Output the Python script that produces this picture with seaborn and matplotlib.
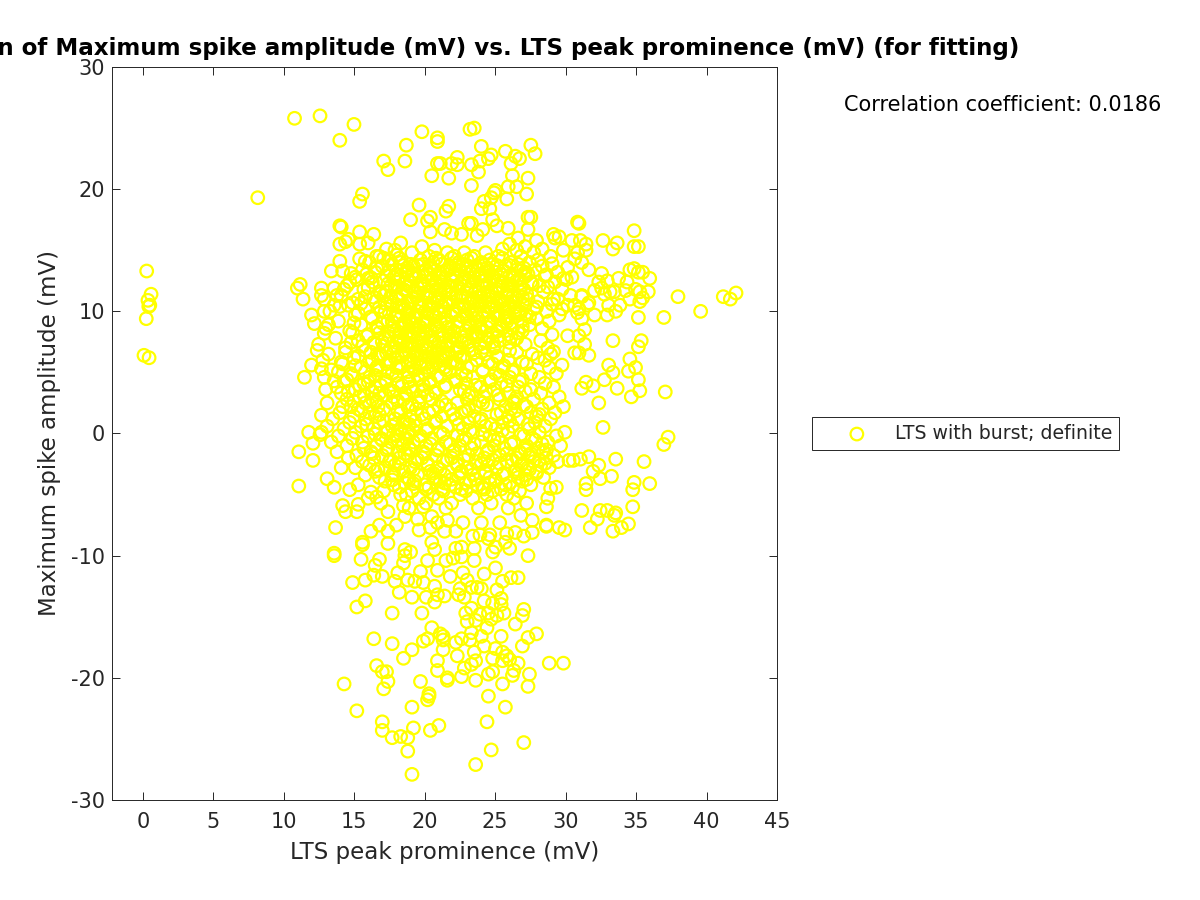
import matplotlib
matplotlib.use("Agg")
import matplotlib.pyplot as plt
import seaborn as sns
import pandas as pd

TITLE = "Correlation of Maximum spike amplitude (mV) vs. LTS peak prominence (mV) (for fitting)"
XLABEL = "LTS peak prominence (mV)"
YLABEL = "Maximum spike amplitude (mV)"
LEGEND = "LTS with burst; definite"
CORR = "Correlation coefficient: 0.0186"

left_points = [(0.45,13.3),(0.76,11.4),(0.54,10.9),(0.6,10.4),(0.67,10.5),(0.42,9.4),(0.26,6.4),(0.62,6.2),(8.3,19.3)]
top_points = [(10.9,25.8),(12.7,26),(15.1,25.3),(14.1,24),(17.2,22.3),(17.5,21.6),(18.8,23.6),(18.7,22.3),(19.9,24.7),(20.6,21.1),(21,22.1),
 (21,24.2),(21,23.9),(23.3,24.9),(23.6,25),(24.1,23.5),(25.8,23.1),(24.8,22.8),(24.6,22.5),(24,22.3),(26.5,22.7),(26.8,22.5),(26.2,22.1),
 (27.6,23.6),(27.9,22.9),(22.4,22.6),(22.4,22),(22,22.1),(21.2,22.1),(23.4,22),(23.9,21.4),(21.8,20.9),(23.4,20.3),(26.3,21.1),(27.4,20.9),
 (26.6,20.2),(26,20.2),(25.1,19.9),(25,19.7),(24.8,19.3),(27.3,19.6),(25.9,19.2),(24.3,19),(24.7,18.4),(24.1,18.4),(21.8,18.6),(21.6,18.2),
 (15.7,19.6),(15.5,19),(19.7,18.7),(19.1,17.5),(20.5,17.7),(20.3,17.4),(20.5,16.5),(14.1,17),(14.2,16.9),(15.5,16.5),(16.5,16.3),(14.7,15.9),
 (14.5,15.7),(14.1,15.5),(15.5,15.5),(16.1,15.6),(18.4,15.6),(17.4,15.1),(18,15),(18.1,14.6),(19.9,15.3),(20.8,15),(24.9,17.5),(25.2,17),
 (23.4,17.2),(23.2,17.2),(26,16.8),(27.4,17.7),(27.6,17.7),(27.4,16.7),(30.9,17.3),(31,17.2),(34.9,16.6),(34.9,15.3),(35.2,15.3),(32.7,15.8),
 (33.7,15.6),(33.4,15.1),(31.5,15.5),(31.1,15.8),(30.5,15.8),(31.5,15),(29.2,16.3),(29.6,16.1),(29.3,16),(28,15.8),(28.4,15.1),(29.9,15),
 (26.7,16),(25.6,15.1),(26.1,15.5),(26.6,15),(27.2,15.3),(24.2,16.7),(23.8,16.2),(22.7,16.3),(22,16.4),(21.5,16.7)]
left_edge_points = [(14.1,14.1),(13.5,13.3),(14.3,13.3),(15.5,14.3),(15.9,14.1),(16.7,14.5),(14.9,13.1),(15.2,12.8),(14.8,12.4),(16.1,12.7),
 (11.3,12.2),(11.1,11.9),(11.5,11),(12.8,11.9),(12.8,11.3),(13,11),(13.7,11.9),(13.9,11.3),(14.4,11.8),(15.9,11.2),(15,10.7),(13.7,10.5),
 (14.1,10.4),(12.1,9.7),(13,10),(12.3,9),(13,8.2),(13.3,8.9),(12.5,6.8),(12.1,5.6),(11.6,4.6),(12.8,5.3),(13.1,3.6),(13.7,4.3),(13.2,2.5),
 (14.3,2.2),(12.8,1.5),(11.9,0.1),(12.7,-0.1),(12.2,-0.8),(11.2,-1.5),(12.2,-2.2),(11.2,-4.3),(13.2,-3.7),(13.7,-4.4),(14.2,-2.8),(14.8,-4.6),
 (15.4,-4.2),(16.3,-4.8),(16.7,-5.2),(17.8,-3.8),(18.4,-5),(19.3,-4.1)]
right_points = [(38,11.2),(39.6,10),(41.2,11.2),(41.7,11),(42.1,11.5),(37,9.5),(35.2,9.5),(33.4,7.6),(35.4,7.6),(35.2,7.1),(34.6,6.1),(35,5.4),
 (34.5,5.1),(33.1,5.6),(33.4,5),(32.8,4.4),(35.2,4.4),(33.7,3.7),(35.3,3.5),(34.7,3),(37.1,3.4),(32.4,2.5),(31.5,4.2),(32,3.9),(31.2,3.7),
 (32.7,0.5),(37.3,-0.3),(37,-0.9),(35.6,-2.3),(33.6,-2.1),(31.7,-1.9),(31.1,-2.1),(30.6,-2.2),(30.3,-2.2),(32.4,-2.6),(32,-3.1),(33.3,-3.5),
 (32.5,-3.7),(34.9,-4),(36,-4.1),(34.8,-4.6),(31.5,-4.6),(31.5,-4.1),(29.4,-4.4),(29,-4.5),(28.8,-5.3),(28.7,-6),(34.8,-6),(31.2,-6.3),
 (32.5,-6.3),(33,-6.3),(33.6,-6.5),(33.5,-6.7),(32.3,-7),(34.5,-7.4),(34,-7.7),(31.8,-7.7),(33.4,-8),(28.7,-7.6),(29.6,-7.7),(30,-7.9),
 (31.7,13.4),(32.6,13.1),(34.6,13.4),(34.9,13.5),(35.5,13.2),(35.2,13.2),(36,12.7),(33.8,12.7),(33,12.5),(32.4,12.4),(34.4,12.4),(32.1,11.7),
 (32.6,11.9),(33.2,11.6),(32.8,11.4),(33.5,11.6),(34.3,11.7),(35,11.8),(35.3,11.6),(35.9,11.6),(35.5,11.1),(35.3,10.8),(34.6,11),(33.9,10.5),
 (33.6,10),(33.1,10.5),(33,9.7),(32.1,9.7),(31.7,10.7),(31.2,11.2),(30.7,10.5),(31,10.2),(30.9,9.9),(31.2,9.4),(31.4,8.5),(31,8),(30.2,8),
 (31.4,7.3),(30.7,6.6),(31,6.6),(31.7,6.4),(29.8,5.6),(29.2,6.7),(30.5,12.8),(29.9,12.7),(29,14.5),(29.1,13.9),(28.7,13),(28.8,12),(29.5,11),
 (29.1,10.6),(29.8,10.2),(31.6,10.5),(31.2,11.3),(30.2,13.6),(30.7,14.3),(31.2,14),(30.9,14.8)]
lower_points = [(13.8,-7.7),(14.5,-6.4),(14.3,-5.9),(15.3,-6.4),(15.4,-5.8),(16.3,-8),(16.9,-7.5),(17.5,-8),(18.1,-7.5),(18.7,-6.8),(17.5,-6.4),
 (18.6,-5.9),(19.7,-7.9),(19.6,-7),(20,-6),(20.6,-6.8),(20.5,-7.7),(21,-7.3),(21.5,-8),(21.7,-7.1),(22.3,-8),(22.8,-7.3),(24.1,-7.3),(25.4,-7.3),
 (23.5,-8.4),(24,-8.3),(24.7,-8.3),(25.9,-8.2),(26.5,-8.1),(27.1,-8.4),(27.7,-8.1),(28.7,-7.5),(27.7,-7.1),(26.9,-6.7),
 (15.7,-8.9),(15.7,-9.1),(13.7,-9.8),(13.7,-10),(17.5,-9),(15.6,-10.3),(16.9,-10.3),(16.6,-10.8),(16.5,-11.6),(15,-12.2),(15.9,-12),(17.1,-11.7),
 (18,-12.1),(18.3,-13),(18.7,-9.5),(19.1,-9.7),(18.7,-10),(18.6,-10.6),(18.2,-11.4),(18.9,-12),(19.4,-12.1),(19.8,-11.3),(20,-12.2),(19.2,-13.4),
 (20.2,-13.4),(20.8,-12.5),(21,-13.2),(20.8,-13.8),(21.5,-13.3),(20.3,-10.4),(20.8,-9.5),(20.6,-8.9),(21,-11.2),(21.9,-11.7),(22.3,-9.4),(22.7,-9.3),
 (22.1,-10.2),(22.7,-10.1),(21.6,-10.4),(23.6,-10.4),(23.6,-9.4),(24.9,-9.7),(25.1,-9.3),(24.6,-8.6),(25.8,-8.9),(26.1,-9.4),(27.4,-10),(25.1,-11),
 (24.3,-11.5),(22.8,-11.4),(23.1,-12),(22.6,-12.7),(22.5,-13.2),(22.9,-13.4),(23.4,-12.6),(24.1,-12.7),(23.8,-12.6),(25.6,-12.1),(26.2,-11.8),
 (26.7,-11.8),(25.2,-12.8),(25.5,-13.5),(24.3,-13.7),(24.9,-13.9),(25.5,-14),(27.1,-14.4),(27,-14.9),(26.5,-15.6),(23.4,-14.3),(23,-14.7),(24,-14.8),
 (24.6,-14.7),(25.2,-14.9),(25.7,-14.7),(23.1,-15.4),(23.7,-15.3),(24.8,-15.2),(24.5,-15.9),(15.3,-14.2),(15.9,-13.7),(17.8,-14.7),(19.9,-14.7),
 (20.6,-15.9),(16.5,-16.8),(17.8,-17.2),(20,-17),(20.3,-16.8),(21.2,-16.4),(21.4,-16.6),(21.4,-16.9),(22.3,-17.1),(22.7,-16.8),(23.3,-16.9),(23.4,-16.3),
 (24.1,-16.6),(25.5,-16.6),(24.3,-17.4),(25.1,-17.6),(27,-17.4),(27.4,-16.7),(28,-16.4),(19.2,-17.7),(18.6,-18.4),(21.4,-17.7),(21,-18.6),(21,-19.4),
 (22.4,-18.2),(23.6,-17.9),(23.7,-18.6),(23.4,-18.9),(22.9,-19.2),(22.7,-19.9),(21.7,-20),(21.7,-20.2),(23.7,-20.2),(24.6,-19.7),(24.9,-19.5),(24.9,-18.4),
 (25.6,-17.9),(25.9,-18.2),(25.6,-18.6),(26.1,-18.5),(26.7,-18.8),(26.3,-19.8),(26.4,-19.4),(25.6,-20.5),(27.5,-19.7),(27.4,-20.7),(28.9,-18.8),(29.9,-18.8),
 (24.6,-21.5),(25.8,-22.4),(16.7,-19),(17.1,-19.5),(17.4,-19.5),(17.5,-20.3),(17.2,-20.9),(14.4,-20.5),(19.8,-20.3),(20.4,-21.3),(20.4,-21.5),(20.3,-21.8),
 (19.2,-22.4),(15.3,-22.7),(17.1,-23.6),(17.1,-24.3),(17.8,-24.9),(18.4,-24.8),(18.9,-24.9),(19.3,-24.1),(20.5,-24.3),(21.1,-23.9),(24.5,-23.6),(27.1,-25.3),
 (24.8,-25.9),(18.9,-26),(23.7,-27.1),(19.2,-27.9)]

# core of the cloud: amplitude level, then the prominences read along it
core_amplitude = [14.8,14.5,14.2,14.0,13.7,13.4,13.2,12.9,12.6,12.4,12.1,11.8,11.6,11.3,11.0,10.8,10.5,10.2,10.0,9.7,9.4,9.2,8.9,8.6,8.4,8.1,7.8,7.6,7.3,7.0,
 6.8,6.5,6.2,6.0,5.7,5.4,5.2,4.9,4.6,4.4,4.1,3.8,3.6,3.3,3.0,2.8,2.5,2.2,2.0,1.7,1.4,1.2,0.9,0.6,0.4,0.1,-0.2,-0.4,-0.7,-1.0,-1.2,-1.5,-1.8,-2.0,-2.3,-2.6,-2.8,-3.1,-3.4,-3.6,-3.9,-4.2,-4.4,-4.7,-5.0,-5.3,-5.7,-6.1]
core_prominence = [
 [19.2,21.7,22.9,24.4,27.8],[16.9,20.4,22.2,23.6,25.3,26.9],[17.6,19.8,21.1,23.1,24.7,28.1],[16.2,18.4,20.7,22.5,24.1,26.2,27.5],[17.1,19.3,21.9,23.7,25.8,28.4],
 [15.7,18.1,20.2,22.6,23.9,26.6,27.9],[16.6,18.8,21.4,23.3,25.1,27.2,29.5],[17.4,19.7,22.1,24.4,26.1,28.6],[15.3,18.2,20.6,22.8,24.9,26.8,30.1],[16.4,19.1,21.3,23.5,25.6,27.6,29.3],
 [14.6,17.7,20.1,22.4,24.2,26.3,28.2],[15.8,18.6,20.9,23.1,25.2,27.1,29.8],[16.9,19.4,21.8,23.9,26.0,28.5],[14.2,17.2,20.3,22.7,24.6,26.7,30.4],[15.4,18.3,21.1,23.4,25.4,27.4,29.2],
 [16.6,19.2,21.6,24.0,26.2,28.1],[14.7,17.8,20.4,22.9,25.0,27.2,30.2],[15.9,18.7,21.0,23.2,25.7,27.8],[13.4,17.0,19.6,22.3,24.3,26.5,28.7],[15.2,18.1,20.7,23.0,25.3,27.3,29.6],
 [16.4,19.0,21.5,23.6,25.9,28.0],[14.0,17.5,20.2,22.5,24.8,26.9,28.9],[15.6,18.5,20.8,23.3,25.5,27.5],[13.1,16.8,19.4,21.9,24.1,26.3,28.4],[14.8,17.9,20.5,23.0,25.2,27.0],
 [16.1,18.8,21.3,23.7,26.0,29.1],[13.8,17.3,19.9,22.2,24.6,26.6],[15.4,18.3,20.6,22.9,25.4,28.3],[12.6,16.6,19.2,21.7,24.0,27.2],[14.5,17.7,20.3,22.6,25.0,28.8],
 [15.9,18.6,21.0,23.4,26.1],[13.3,16.9,19.6,21.8,24.4,27.7,29.0],[15.1,18.0,20.7,22.8,25.3,28.1],[12.9,16.4,19.1,21.4,23.8,26.0,28.6],[14.3,17.4,20.2,22.4,24.9,27.3],
 [15.6,18.4,20.6,23.1,25.6,28.9],[13.5,16.7,19.4,21.6,24.2,26.4],[14.9,17.8,20.1,22.7,25.1,27.6,29.4],[13.0,16.2,18.9,21.2,23.5,26.1,28.2],[14.6,17.3,19.7,22.3,24.8,27.0],
 [15.8,18.2,20.4,23.0,25.5,28.6],[13.9,16.6,19.1,21.5,24.0,26.7,29.2],[15.2,17.6,20.0,22.6,25.0,27.6],[14.2,16.9,18.7,20.9,23.4,26.0,28.3],[15.5,17.9,19.8,24.3,26.6,29.6],
 [14.6,16.4,18.6,20.6,23.1,25.4,27.8],[15.9,17.8,19.7,22.4,24.2,26.4,28.9],[14.9,16.8,18.9,21.1,23.7,25.8,27.3,29.9],[15.4,17.2,19.5,21.9,23.2,26.2,28.4],[14.1,16.2,18.4,20.4,22.7,25.5,27.6,29.3],
 [15.1,16.6,19.1,21.3,23.6,26.0,28.0],[13.6,15.9,18.0,20.1,22.3,24.1,26.7,29.0],[14.8,16.9,18.7,20.8,23.2,25.6,27.9],[13.2,15.6,17.8,19.5,21.7,24.4,26.3,28.6],[14.4,16.5,18.4,20.3,22.8,25.1,27.5],
 [12.8,15.2,17.4,19.0,21.2,23.5,26.0,28.2,30.0],[14.0,16.1,18.1,19.8,22.4,24.7,27.1,29.4],[15.0,17.0,18.8,20.6,23.0,25.3,27.7],[13.5,15.7,17.7,19.3,21.6,24.1,26.4,28.8],[14.6,16.7,18.5,20.2,22.6,25.0,27.3,29.7],
 [15.8,17.5,19.0,21.1,23.4,25.7,28.1],[13.9,16.3,18.2,20.0,22.1,24.5,26.8,28.5],[15.3,17.1,18.9,20.9,23.2,25.4,27.5,29.2],[14.7,16.5,18.3,19.9,22.0,24.3,26.6,28.7],[15.7,17.6,19.4,21.4,23.7,25.9,27.8,29.5],
 [16.2,18.0,20.3,22.4,24.6,26.9,28.3],[15.2,17.3,19.1,21.0,23.1,25.2,27.4,28.9],[16.6,18.6,20.5,22.7,24.4,26.5,28.0],[15.9,17.8,19.6,21.5,23.5,25.6,27.2],[16.9,18.9,20.8,22.5,24.7,26.7,28.5],
 [17.3,19.4,21.2,23.3,25.1,27.0],[17.9,20.1,21.9,23.8,25.8,27.6],[18.3,20.4,22.3,24.2,26.3],[17.2,19.2,21.4,23.0,24.9,26.8],[18.8,20.7,22.6,24.5,25.9],
 [16.1,19.7,21.1,23.5,26.4],[17.0,20.2,22.0,24.8,27.3],[19.0,21.6,23.9,26.0]]

# solid blocks of the cloud, read more closely
block_amplitude = [14.35,13.85,13.55,13.05,12.75,12.25,11.95,11.45,11.15,10.65,10.35,9.85,9.55,9.05,8.75,8.25,7.95,7.45,7.15,6.65,6.35,5.85,5.55,5.05,4.75,4.25,3.95,3.45,3.15,2.65]
block_prominence = [
 [18.3,20.9,23.4,25.6,17.2,22.0],[17.8,19.1,21.3,24.9,26.7,22.8,20.0],[16.7,18.9,20.6,23.0,24.5,27.1,21.9],[18.1,20.3,22.2,24.0,25.5,27.4,19.3,16.0],[16.3,19.4,21.2,23.6,25.0,26.4,17.9,22.9],
 [17.5,18.7,20.9,22.6,24.7,26.0,27.7,19.9],[16.1,18.0,19.6,21.5,23.4,25.4,26.9,20.7],[17.0,18.5,20.0,22.0,24.3,25.9,27.3,21.2],[16.5,17.7,19.3,20.5,22.7,23.8,26.3,24.9],[15.6,17.3,18.9,20.7,21.8,23.3,25.7,27.0,19.8],
 [16.9,18.3,19.9,21.4,22.5,24.6,26.5,28.0],[15.4,17.6,19.0,20.3,22.1,23.7,25.1,26.8,21.1],[16.3,18.0,19.5,20.9,22.8,24.2,25.8,27.5],[15.1,17.1,18.6,20.0,21.6,23.2,24.7,26.2,19.2],[16.7,17.9,19.7,21.0,22.4,24.0,25.4,27.0],
 [15.0,16.9,18.4,20.2,21.8,23.5,24.9,26.7,19.3],[16.0,17.6,19.0,20.6,22.0,23.9,25.3,20.0],[14.9,16.5,18.1,19.6,21.1,22.7,24.4,26.1],[15.7,17.2,18.8,20.3,21.7,23.2,25.0,19.9],[14.5,16.3,17.9,19.4,20.9,22.4,24.1,26.6],
 [15.4,17.0,18.5,20.1,21.4,22.9,25.2,19.5],[14.2,16.2,17.7,19.1,20.6,22.1,24.6,27.0],[15.2,16.8,18.3,19.8,21.2,23.4,25.7],[14.0,15.9,17.5,18.9,20.4,21.9,24.2,26.3],[15.0,16.6,18.1,19.6,21.0,23.0,25.4],
 [14.4,16.1,17.4,19.0,20.5,22.3,24.7,26.8],[15.5,17.0,18.5,20.0,21.6,23.7,25.9],[14.7,16.4,17.9,19.3,20.8,22.9,24.4,27.2],[15.8,17.3,18.8,20.3,23.2,25.3],[15.1,16.7,18.2,19.7,21.3,24.0,26.4]]
band_amplitude = [2.35,1.85,1.55,1.05,0.75,0.25,-0.05,-0.55,-0.85,-1.35,-1.65,-2.15,-2.45,-2.95,-3.25,-3.75,-4.05,-4.55]
band_prominence = [
 [16.2,19.2,21.6,24.5,27.1],[15.6,18.2,20.7,23.0,26.5],[16.9,19.9,22.1,25.2,28.2],[17.2,18.6,19.4,20.9,24.0,26.1],[16.0,18.0,19.0,22.5,24.8,27.4],
 [17.5,18.4,19.3,20.2,23.3,25.6],[16.6,17.9,18.9,21.4,24.2,26.9],[17.1,18.2,19.7,22.8,25.0,27.9],[18.6,20.5,21.9,23.6,26.2,28.4],[17.4,19.1,21.0,22.2,24.6,27.2,28.7],
 [16.4,18.7,20.1,23.8,25.9,26.9,27.6],[17.7,19.6,21.7,22.9,24.9,26.3,28.2],[18.3,20.3,22.4,24.1,25.4,27.0,28.6],[16.8,19.3,21.2,23.4,26.6,27.5],[17.9,20.7,22.6,24.4,25.7,26.7,28.0],
 [19.0,20.9,22.0,23.7,25.1,27.3],[18.7,21.5,23.0,24.7,26.1],[20.2,21.3,22.7,24.3,25.5]]
# the fully yellow patches around (20, 8), (24, 11) and (18, 12)
solid_amplitude = [13.75,13.3,12.85,12.5,12.05,11.65,11.2,10.75,10.4,9.95,9.6,9.15,8.7,8.35,7.9,7.5,7.05,6.6,6.25,5.8,5.4]
solid_prominence = [
 [18.6,19.6,20.5,22.3,23.1,24.3,25.2,26.1],[17.6,18.9,20.8,21.7,22.6,24.6,25.7,26.9],[18.4,19.2,20.1,21.1,23.9,24.9,26.3,27.2],[17.2,19.9,20.6,22.0,23.2,24.2,25.3,26.6],[18.2,19.0,21.2,21.9,22.9,24.5,25.6,26.2],
 [17.4,18.8,20.4,21.6,23.7,24.8,25.1,26.8],[18.1,19.5,20.2,22.3,23.0,24.1,25.9,27.0],[17.7,19.1,21.0,22.1,23.5,24.4,25.5,26.4],[18.5,19.7,20.6,21.3,22.9,24.0,25.0,26.0],[17.3,18.9,20.1,21.5,23.4,24.6,25.8,26.9],
 [18.2,19.4,20.7,22.0,23.1,24.2,25.2,26.5],[17.8,19.0,20.3,21.2,22.5,23.8,24.7,25.9],[18.6,19.8,20.9,21.7,23.3,24.5,25.6],[17.5,18.9,20.0,21.1,22.2,24.1,25.2],[18.3,19.3,20.5,21.4,22.7,23.7,26.2],
 [17.1,18.6,19.7,20.8,21.9,23.2,24.9],[18.0,19.2,20.2,21.3,22.4,24.3],[17.4,18.7,19.9,20.6,21.7,23.6],[16.8,18.2,19.3,20.4,21.2,22.6],[17.6,18.9,19.8,20.9,21.9],[16.7,18.1,19.2,20.3,21.5]]

READ_OFFSET = 0.19   # the readings were taken with the x axis zero about 0.19 too far left
READ_SCALE = 1.0043

points = left_points + top_points + left_edge_points + right_points + lower_points
prominence = [p[0] for p in points]
amplitude = [p[1] for p in points]
for levels, rows in ((core_amplitude, core_prominence), (block_amplitude, block_prominence),
                     (band_amplitude, band_prominence), (solid_amplitude, solid_prominence)):
    for a, row in zip(levels, rows):
        prominence += row
        amplitude += [a] * len(row)
prominence = [p * READ_SCALE - READ_OFFSET for p in prominence]
df = pd.DataFrame({"prominence": prominence, "amplitude": amplitude})

sns.set_theme(style="ticks")
plt.rcParams["font.family"] = ["DejaVu Sans"]
plt.rcParams["axes.unicode_minus"] = False
fig = plt.figure(figsize=(12, 9), dpi=100)
ax = fig.add_axes([112/1200, 1-800/900, 665/1200, 733/900])
sns.scatterplot(data=df, x="prominence", y="amplitude", ax=ax, marker="o", s=82,
                facecolors="none", edgecolor="#ffff00", linewidth=1.6, label=LEGEND, clip_on=True)
ax.set_xlim(-2.2, 45)
ax.set_ylim(-30, 30)
ax.set_xticks(range(0, 46, 5))
ax.set_yticks(range(-30, 31, 10))
ax.tick_params(direction="in", length=5.8, width=0.7, labelsize=15, top=True, right=True, color="#262626", labelcolor="#262626")
ax.tick_params(axis="x", pad=9)
ax.tick_params(axis="y", pad=5)
for s in ax.spines.values():
    s.set_visible(True); s.set_linewidth(0.7); s.set_color("#262626")
ax.set_xlabel(XLABEL, fontsize=16.6, color="#262626", labelpad=6)
ax.set_ylabel(YLABEL, fontsize=16.5, color="#262626", labelpad=7)
ax.set_title(TITLE, fontsize=16.6, fontweight="bold", color="black", pad=9, clip_on=False)
ax.text(1002.5/1200, 1-105/900, CORR, transform=fig.transFigure, fontsize=15, ha="center", va="center", color="black")
leg = ax.legend(loc="center left", bbox_to_anchor=(812/1200, 1-433.5/900), bbox_transform=fig.transFigure,
                fontsize=13.6, frameon=True, fancybox=False, framealpha=1, edgecolor="#262626",
                borderaxespad=0, handletextpad=0, handlelength=4.05, borderpad=0.35)
leg.get_frame().set_linewidth(0.7)
fig.savefig("out.png", dpi=100)
